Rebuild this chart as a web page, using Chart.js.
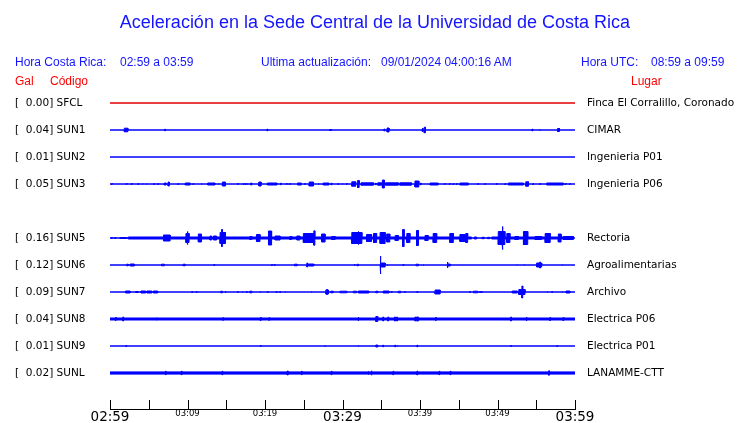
<!DOCTYPE html>
<html>
<head>
<meta charset="utf-8">
<script src="https://cdn.jsdelivr.net/npm/chart.js@4"></script>
<style>
  body { margin: 0; background: #fff; }
  #wrap { position: relative; width: 740px; height: 423px; }
  #wrap canvas { position: absolute; left: 0; top: 0; }
  .t { position: absolute; white-space: pre; font-family: "Liberation Sans", Arial, sans-serif; font-size: 12px; line-height: 12px; color: #1414ff; }
  .red { color: #ff0000; }
  #title { left: 0; width: 750px; text-align: center; top: 13px; font-size: 18px; line-height: 18px; }
</style>
</head>
<body>
<div id="wrap">
  <canvas id="myChart" width="740" height="423"></canvas>
  <div class="t" id="title">Aceleración en la Sede Central de la Universidad de Costa Rica</div>
  <div class="t" style="left:15px;top:56px">Hora Costa Rica:</div>
  <div class="t" style="left:120px;top:56px">02:59 a 03:59</div>
  <div class="t" style="left:261px;top:56px">Ultima actualización:</div>
  <div class="t" style="left:381px;top:56px">09/01/2024 04:00:16 AM</div>
  <div class="t" style="left:581px;top:56px">Hora UTC:</div>
  <div class="t" style="left:651px;top:56px">08:59 a 09:59</div>
  <div class="t red" style="left:15px;top:75px">Gal</div>
  <div class="t red" style="left:50px;top:75px">Código</div>
  <div class="t red" style="left:631px;top:75px">Lugar</div>
</div>
<script>
// stations, peak values (Gal) and places
const stations = ['SFCL', 'SUN1', 'SUN2', 'SUN3', 'SUN5', 'SUN6', 'SUN7', 'SUN8', 'SUN9', 'SUNL'];
const gal = [0.00, 0.04, 0.01, 0.05, 0.16, 0.12, 0.09, 0.04, 0.01, 0.02];
const places = ['Finca El Corralillo, Coronado', 'CIMAR', 'Ingenieria P01', 'Ingenieria P06', 'Rectoria',
  'Agroalimentarias', 'Archivo', 'Electrica P06', 'Electrica P01', 'LANAMME-CTT'];
const rows = [0, 1, 2, 3, 5, 6, 7, 8, 9, 10]; // trace slot (SUN4 slot is empty)
const tickLabels = ['02:59', '03:09', '03:19', '03:29', '03:39', '03:49', '03:59'];

// bursts per trace: [start minute, end minute, half amplitude (counts)]
const sfcl = [];
const sun1 = [[1.85, 2.3, 2.3], [7.05, 7.15, 1.3], [20.25, 20.35, 1.3], [28.35, 28.6, 1], [35.35, 35.45, 1.5],
  [35.75, 36.0, 2.5], [40.3, 40.4, 2], [40.55, 40.7, 3.3], [54.45, 54.55, 1.3], [55.45, 55.55, 0.8], [57.75, 58.0, 2]];
const sun2 = [];
const sun3 = [[0.2, 0.3, 1], [2.1, 2.2, 1], [2.75, 2.85, 1], [3.6, 3.7, 1], [4.15, 4.25, 1], [4.65, 4.75, 1],
  [5.65, 5.75, 1], [6.15, 6.25, 1], [7.0, 7.25, 1.5], [7.5, 7.65, 2.5], [8.75, 8.85, 1], [9.7, 10.35, 1.5],
  [10.7, 10.8, 1], [11.75, 11.85, 1], [12.6, 13.55, 1.5], [13.95, 14.05, 1], [14.5, 14.9, 2.5], [16.45, 16.55, 1],
  [17.2, 17.3, 1], [17.5, 17.6, 1], [17.7, 17.8, 1], [18.15, 18.3, 1.5], [19.2, 19.5, 2.5], [20.3, 21.55, 1.5],
  [22.0, 22.1, 1.3], [22.75, 22.85, 1], [23.15, 23.25, 1], [24.2, 24.7, 1.5], [25.1, 25.2, 1], [25.7, 26.25, 2.5],
  [26.85, 26.95, 1], [27.5, 28.25, 1.5], [28.55, 28.65, 1.3], [29.4, 29.5, 1], [29.95, 30.05, 1], [30.5, 30.6, 1],
  [31.2, 31.7, 2.7], [31.95, 32.15, 4], [32.4, 34.0, 1.7], [34.25, 34.35, 1.3], [34.55, 35.05, 1.7], [35.15, 35.4, 4.5],
  [35.55, 37.2, 1.7], [37.4, 38.9, 1.7], [39.35, 39.85, 3.5], [40.05, 40.15, 1.3], [41.3, 42.35, 1.5], [43.15, 43.25, 1],
  [43.8, 43.9, 1], [44.25, 44.35, 1], [44.7, 44.8, 1], [45.15, 46.25, 1.5], [47.45, 47.55, 1], [48.35, 48.45, 1],
  [49.85, 49.95, 1], [50.95, 51.05, 1], [51.4, 53.35, 1.5], [53.65, 54.0, 2.7], [54.55, 54.65, 1], [55.45, 55.55, 1],
  [56.35, 58.5, 1.5], [58.75, 58.85, 1], [59.3, 59.4, 1]];
const sun5 = [[0.15, 0.3, 1], [0.6, 0.75, 1], [1.3, 2.15, 1], [2.35, 46.65, 1.5], [47.0, 47.3, 1.5], [48.0, 48.3, 1.2],
  [48.7, 49.0, 1.2], [49.25, 59.8, 1.5], [6.9, 7.75, 3.5], [9.8, 10.2, 5], [9.95, 10.05, 7], [11.4, 11.8, 4.5],
  [12.9, 13.1, 2.5], [13.35, 13.75, 2.5], [14.2, 14.9, 6], [14.4, 14.5, 9], [18.05, 18.3, 2], [18.9, 19.35, 4],
  [20.45, 20.85, 7.5], [21.3, 21.95, 2.5], [23.2, 23.45, 2], [24.1, 24.5, 2.5], [24.95, 26.45, 5], [26.3, 26.4, 7.7],
  [27.3, 27.75, 4.5], [28.6, 29.05, 2], [31.2, 32.5, 6], [32.0, 32.1, 7], [33.1, 33.75, 4], [34.0, 34.4, 5],
  [34.85, 35.5, 6], [35.7, 36.1, 4.5], [36.8, 37.2, 3], [37.75, 37.95, 9], [38.3, 38.7, 5], [39.55, 39.8, 8],
  [40.65, 41.05, 3], [41.7, 42.15, 5], [43.85, 44.3, 5], [45.15, 45.8, 4], [45.9, 46.15, 5], [50.1, 50.95, 7],
  [50.6, 50.7, 12], [51.2, 51.6, 5], [52.25, 52.7, 2], [53.35, 53.9, 7], [54.85, 55.7, 2], [56.15, 56.8, 5],
  [57.85, 58.2, 4.5], [58.5, 59.8, 2]];
const sun6 = [[2.15, 2.35, 1.3], [2.6, 3.15, 1.5], [6.65, 7.0, 1.3], [9.45, 9.7, 1.3], [13.4, 13.5, 1], [20.85, 20.95, 1],
  [21.2, 21.3, 1], [23.8, 24.15, 1.3], [25.4, 25.5, 2.5], [25.6, 26.3, 1.5], [31.5, 31.6, 1.3], [31.9, 32.05, 1.3],
  [34.85, 34.95, 9.5], [35.0, 35.5, 2.5], [35.75, 35.85, 1], [37.8, 37.9, 1], [39.5, 39.8, 1.3], [40.4, 40.5, 1],
  [43.5, 43.6, 3.5], [43.6, 43.9, 1.5], [52.45, 52.55, 0.7], [53.4, 53.5, 0.7], [55.05, 55.7, 2.5], [55.45, 55.55, 3.5],
  [58.3, 58.4, 0.7]];
const sun7 = [[2.0, 2.6, 1.5], [3.3, 3.65, 1], [4.0, 4.6, 1.5], [4.75, 5.4, 1.5], [5.6, 6.15, 1.5], [10.55, 10.65, 1],
  [11.15, 11.25, 1], [14.3, 14.5, 1.3], [14.85, 14.95, 1.3], [16.45, 16.55, 1], [17.05, 17.15, 1], [17.6, 17.7, 1],
  [18.05, 18.3, 1.3], [19.35, 19.45, 0.7], [20.3, 20.4, 1], [21.45, 21.55, 1], [21.9, 22.0, 1], [22.55, 22.65, 0.7],
  [25.95, 26.05, 1], [27.85, 28.2, 2.5], [27.95, 28.05, 3], [28.5, 28.8, 1.3], [29.7, 30.55, 1.3], [31.4, 31.8, 1.3],
  [32.05, 33.4, 1.5], [34.3, 34.55, 1.3], [35.25, 36.0, 1.5], [36.3, 36.4, 1], [37.2, 37.5, 1.3], [38.0, 38.1, 1],
  [39.6, 39.7, 1], [41.95, 42.6, 2.5], [46.4, 46.5, 1], [46.9, 47.45, 1.3], [47.7, 47.8, 1], [47.9, 48.0, 1],
  [51.9, 52.55, 1.5], [52.75, 53.55, 3], [53.15, 53.25, 6.5], [56.4, 56.5, 1], [57.0, 57.1, 1], [58.3, 58.4, 0.7],
  [58.85, 59.35, 1.5]];
const sun8 = [[0, 60, 1.5], [0.7, 0.8, 2], [1.65, 1.75, 2.5], [5.95, 6.05, 1.8], [14.55, 14.65, 1.8], [19.4, 19.5, 2],
  [20.5, 20.6, 1.8], [32.0, 32.1, 2.5], [34.3, 34.55, 3], [35.2, 35.3, 2.5], [35.85, 35.95, 2.5], [36.7, 36.85, 2.5],
  [37.0, 37.1, 2.5], [39.35, 39.45, 2.5], [39.55, 39.8, 2.5], [42.0, 42.1, 2], [51.7, 51.8, 2.5], [53.7, 53.8, 2.5],
  [56.75, 56.85, 2], [58.45, 58.55, 2]];
const sun9 = [[2.05, 2.15, 1], [19.4, 19.5, 1], [27.7, 27.8, 0.8], [32.0, 32.1, 1], [34.3, 34.55, 1.5], [35.2, 35.3, 1.3],
  [36.75, 36.85, 1.3], [37.05, 37.15, 1], [39.6, 39.7, 1.3], [51.7, 51.8, 1], [57.65, 57.75, 1]];
const sunl = [[0, 60, 1.6], [7.15, 7.25, 2.2], [9.2, 9.3, 2.2], [14.45, 14.55, 2.2], [22.85, 23.0, 2.4], [24.7, 24.8, 2.2],
  [28.55, 28.65, 2.2], [33.3, 33.4, 2.2], [33.7, 33.8, 2.7], [36.5, 36.6, 2.2], [39.6, 39.7, 2.4], [42.45, 42.55, 2.2],
  [43.9, 44.0, 2.2], [56.6, 56.7, 2.7]];
const bursts = [sfcl, sun1, sun2, sun3, sun5, sun6, sun7, sun8, sun9, sunl];

const BLUE = '#0000ff';
const RED = '#e00000';
const K = 1 / 27; // counts -> trace slot units

// outline of one side of a trace: union of the bursts, as steps
function envelope(list, row, sign) {
  const cuts = [0, 60];
  list.forEach(b => cuts.push(b[0], b[1]));
  const xs = [...new Set(cuts)].sort((a, b) => a - b);
  const pts = [];
  for (let i = 0; i < xs.length - 1; i++) {
    const a = xs[i], e = xs[i + 1];
    let amp = 0;
    list.forEach(b => { if (b[0] <= a && b[1] >= e && b[2] > amp) amp = b[2]; });
    const y = row + sign * Math.max(amp - 0.5, 0) * K; // the 1px outline adds the rest
    pts.push({ x: a, y: y }, { x: e, y: y });
  }
  return pts;
}

const datasets = [];
stations.forEach((s, i) => {
  const col = s === 'SFCL' ? RED : BLUE;
  datasets.push({ label: s, data: envelope(bursts[i], rows[i], -1), borderColor: col, backgroundColor: col,
    borderWidth: 1, pointRadius: 0, fill: false });
  datasets.push({ label: s + ' low', data: envelope(bursts[i], rows[i], 1), borderColor: col, backgroundColor: col,
    borderWidth: 1, pointRadius: 0, fill: '-1' });
});

// the time axis has its tick marks pointing up
const tickMarks = {
  id: 'tickMarks',
  afterDraw(chart) {
    const x = chart.scales.x, c = chart.ctx, b = Math.round(chart.chartArea.bottom);
    c.save();
    c.strokeStyle = '#000';
    c.lineWidth = 1;
    c.beginPath();
    x.ticks.forEach(t => {
      const p = Math.round(x.getPixelForValue(t.value)) + 0.5;
      c.moveTo(p, b);
      c.lineTo(p, b - 9);
    });
    c.stroke();
    c.restore();
  }
};

const slotTicks = scale => { scale.ticks = rows.map(v => ({ value: v })); };

const ctx = document.getElementById('myChart').getContext('2d');
const myChart = new Chart(ctx, {
  type: 'line',
  data: { datasets: datasets },
  options: {
    responsive: false,
    animation: false,
    devicePixelRatio: 1,
    elements: { line: { tension: 0 } },
    layout: { padding: { left: 15, right: 0, top: 76, bottom: 0 } },
    scales: {
      x: {
        type: 'linear', min: 0, max: 60,
        grid: { display: false, drawTicks: false },
        border: { display: true, color: '#000', width: 1 },
        afterFit: s => { s.height = 14; },
        ticks: {
          stepSize: 5, autoSkip: false, maxRotation: 0, padding: 0, color: '#000',
          font: c => ({ family: 'DejaVu Sans', size: c.tick && c.tick.value % 30 === 0 ? 13.5 : 8.5 }),
          callback: v => (v % 10 === 0 ? tickLabels[v / 10] : '')
        }
      },
      y: {
        position: 'left', reverse: true, min: -1, max: 34 / 3,
        grid: { display: false, drawTicks: false }, border: { display: false },
        afterBuildTicks: slotTicks,
        afterFit: s => { s.width = 95; },
        ticks: {
          crossAlign: 'far', padding: 0, color: '#000', autoSkip: false,
          font: { family: 'DejaVu Sans', size: 10.5 },
          callback: v => { const i = rows.indexOf(v); return '[  ' + gal[i].toFixed(2) + '] ' + stations[i]; }
        }
      },
      y2: {
        position: 'right', reverse: true, min: -1, max: 34 / 3,
        // hidden tick marks keep the place names 12px off the traces
        grid: { display: false, drawTicks: true, tickLength: 12 }, border: { display: false },
        afterBuildTicks: slotTicks,
        afterFit: s => { s.width = 165; },
        ticks: {
          crossAlign: 'near', padding: 0, color: '#000', autoSkip: false,
          font: { family: 'DejaVu Sans', size: 10.5 },
          callback: v => places[rows.indexOf(v)]
        }
      }
    },
    plugins: {
      legend: { display: false },
      tooltip: { enabled: false }
    }
  },
  plugins: [tickMarks]
});
</script>
</body>
</html>
